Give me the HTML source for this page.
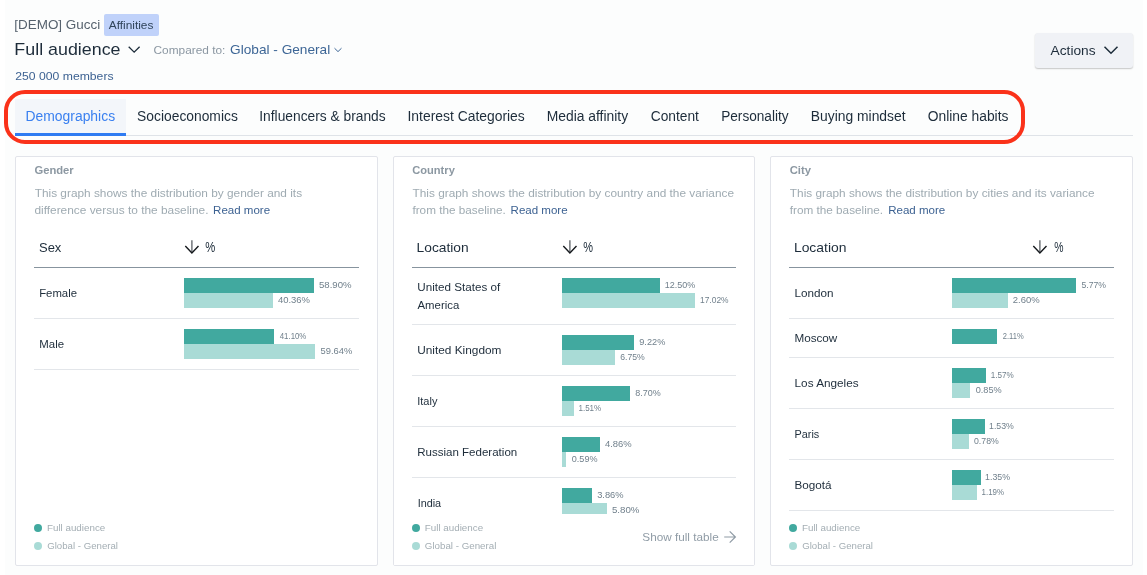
<!DOCTYPE html>
<html><head><meta charset="utf-8"><title>Audience insights</title>
<style>
*{box-sizing:border-box;margin:0;padding:0}
html,body{width:1147px;height:575px;overflow:hidden;background:#fff}
body{position:relative;font-family:"Liberation Sans",sans-serif}
.a{position:absolute}
svg{position:absolute;left:0;top:0}
text{font-family:"Liberation Sans",sans-serif;white-space:pre}
</style></head><body>
<div class="a" style="left:5px;top:0;width:1138px;height:575px;background:#fcfdfd"></div>
<div class="a" style="left:104px;top:14px;width:55px;height:22px;background:#c0d2fa;border-radius:2px"></div>
<div class="a" style="left:1035px;top:33px;width:98px;height:35px;background:#f0f2f6;border-radius:3px;box-shadow:0 1px 1.5px rgba(0,0,0,.22)"></div>
<div class="a" style="left:15px;top:135px;width:1118px;height:1px;background:#dfe3e8"></div>
<div class="a" style="left:15px;top:99px;width:111px;height:37px;background:#f3f6fa;border-bottom:3px solid #2f7bf2"></div>
<div class="a" style="left:4px;top:90px;width:1021px;height:54px;border:4px solid #fa321a;border-radius:21px"></div>
<div class="a" style="left:15px;top:156px;width:363px;height:410px;background:#fff;border:1px solid #e2e4ea;border-radius:2px;"></div>
<div class="a" style="left:34px;top:267px;width:325px;height:1px;background:#87949e;"></div>
<div class="a" style="left:393px;top:156px;width:362px;height:410px;background:#fff;border:1px solid #e2e4ea;border-radius:2px;"></div>
<div class="a" style="left:412px;top:267px;width:324px;height:1px;background:#87949e;"></div>
<div class="a" style="left:770px;top:156px;width:363px;height:410px;background:#fff;border:1px solid #e2e4ea;border-radius:2px;"></div>
<div class="a" style="left:789px;top:267px;width:325px;height:1px;background:#87949e;"></div>
<div class="a" style="left:184px;top:278px;width:130px;height:15px;background:#41a99f;"></div>
<div class="a" style="left:184px;top:293px;width:89px;height:15px;background:#a9dbd6;"></div>
<div class="a" style="left:184px;top:329px;width:90px;height:15px;background:#41a99f;"></div>
<div class="a" style="left:184px;top:344px;width:131px;height:15px;background:#a9dbd6;"></div>
<div class="a" style="left:34px;top:318px;width:325px;height:1px;background:#e3e6ea;"></div>
<div class="a" style="left:34px;top:369px;width:325px;height:1px;background:#e3e6ea;"></div>
<div class="a" style="left:562px;top:278px;width:98px;height:15px;background:#41a99f;"></div>
<div class="a" style="left:562px;top:293px;width:133px;height:15px;background:#a9dbd6;"></div>
<div class="a" style="left:562px;top:335px;width:72px;height:15px;background:#41a99f;"></div>
<div class="a" style="left:562px;top:350px;width:53px;height:15px;background:#a9dbd6;"></div>
<div class="a" style="left:562px;top:386px;width:68px;height:15px;background:#41a99f;"></div>
<div class="a" style="left:562px;top:401px;width:12px;height:15px;background:#a9dbd6;"></div>
<div class="a" style="left:562px;top:437px;width:38px;height:15px;background:#41a99f;"></div>
<div class="a" style="left:562px;top:452px;width:4px;height:15px;background:#a9dbd6;"></div>
<div class="a" style="left:562px;top:488px;width:30px;height:15px;background:#41a99f;"></div>
<div class="a" style="left:562px;top:503px;width:45px;height:15px;background:#a9dbd6;"></div>
<div class="a" style="left:412px;top:324px;width:324px;height:1px;background:#e3e6ea;"></div>
<div class="a" style="left:412px;top:375px;width:324px;height:1px;background:#e3e6ea;"></div>
<div class="a" style="left:412px;top:426px;width:324px;height:1px;background:#e3e6ea;"></div>
<div class="a" style="left:412px;top:477px;width:324px;height:1px;background:#e3e6ea;"></div>
<div class="a" style="left:394px;top:514px;width:360px;height:51px;background:#fff;"></div>
<div class="a" style="left:952px;top:278px;width:124px;height:15px;background:#41a99f;"></div>
<div class="a" style="left:952px;top:293px;width:56px;height:15px;background:#a9dbd6;"></div>
<div class="a" style="left:952px;top:329px;width:45px;height:15px;background:#41a99f;"></div>
<div class="a" style="left:952px;top:368px;width:34px;height:15px;background:#41a99f;"></div>
<div class="a" style="left:952px;top:383px;width:18px;height:15px;background:#a9dbd6;"></div>
<div class="a" style="left:952px;top:419px;width:33px;height:15px;background:#41a99f;"></div>
<div class="a" style="left:952px;top:434px;width:17px;height:15px;background:#a9dbd6;"></div>
<div class="a" style="left:952px;top:470px;width:29px;height:15px;background:#41a99f;"></div>
<div class="a" style="left:952px;top:485px;width:25px;height:15px;background:#a9dbd6;"></div>
<div class="a" style="left:789px;top:318px;width:325px;height:1px;background:#e3e6ea;"></div>
<div class="a" style="left:789px;top:357px;width:325px;height:1px;background:#e3e6ea;"></div>
<div class="a" style="left:789px;top:408px;width:325px;height:1px;background:#e3e6ea;"></div>
<div class="a" style="left:789px;top:459px;width:325px;height:1px;background:#e3e6ea;"></div>
<div class="a" style="left:789px;top:510px;width:325px;height:1px;background:#e3e6ea;"></div>
<div class="a" style="left:34px;top:524px;width:8px;height:8px;background:#41a99f;border-radius:50%;"></div>
<div class="a" style="left:34px;top:542px;width:8px;height:8px;background:#a9dbd6;border-radius:50%;"></div>
<div class="a" style="left:412px;top:524px;width:8px;height:8px;background:#41a99f;border-radius:50%;"></div>
<div class="a" style="left:412px;top:542px;width:8px;height:8px;background:#a9dbd6;border-radius:50%;"></div>
<div class="a" style="left:789px;top:524px;width:8px;height:8px;background:#41a99f;border-radius:50%;"></div>
<div class="a" style="left:789px;top:542px;width:8px;height:8px;background:#a9dbd6;border-radius:50%;"></div>
<svg width="1147" height="575" viewBox="0 0 1147 575">
<path d="M191.9 240.3 V252.6" fill="none" stroke="#1c232a" stroke-opacity=".72" stroke-width="1.3"/><path d="M185.3 246.0 L191.9 252.9 L198.5 246.0" fill="none" stroke="#15191d" stroke-width="1.4"/>
<path d="M569.9 240.3 V252.6" fill="none" stroke="#1c232a" stroke-opacity=".72" stroke-width="1.3"/><path d="M563.3 246.0 L569.9 252.9 L576.5 246.0" fill="none" stroke="#15191d" stroke-width="1.4"/>
<path d="M1039.9 240.3 V252.6" fill="none" stroke="#1c232a" stroke-opacity=".72" stroke-width="1.3"/><path d="M1033.3 246.0 L1039.9 252.9 L1046.5 246.0" fill="none" stroke="#15191d" stroke-width="1.4"/>
<path d="M724.2 537 H735.2 M729.7 531.3 L735.4 537 L729.7 542.7" fill="none" stroke="#8f9ba5" stroke-width="1.2"/>
<path d="M128.7 46.8 L134.15 52.2 L139.6 46.8" fill="none" stroke="#1d2c3a" stroke-width="1.3"/>
<path d="M334.5 48.2 L338 51.6 L341.5 48.2" fill="none" stroke="#3d6696" stroke-width="1"/>
<path d="M1104.5 46.7 L1111 53.2 L1117.5 46.7" fill="none" stroke="#1d2c3a" stroke-width="1.5"/>
<text id="t0" x="14.28" y="28.9" font-size="13.5" fill="#56626e" textLength="85.93" lengthAdjust="spacingAndGlyphs">[DEMO] Gucci</text>
<text id="t1" x="108.77" y="28.9" font-size="11.5" fill="#30445a" textLength="44.64" lengthAdjust="spacingAndGlyphs">Affinities</text>
<text id="t2" x="14.36" y="54.9" font-size="17" fill="#1d2c3a" textLength="106.17" lengthAdjust="spacingAndGlyphs">Full audience</text>
<text id="t3" x="153.55" y="54.0" font-size="11.5" fill="#8b97a2" textLength="71.83" lengthAdjust="spacingAndGlyphs">Compared to:</text>
<text id="t4" x="230.08" y="54.0" font-size="13.5" fill="#3d6696" textLength="100.12" lengthAdjust="spacingAndGlyphs">Global - General</text>
<text id="t5" x="15.32" y="80.0" font-size="11.5" fill="#3d6292" textLength="98.25" lengthAdjust="spacingAndGlyphs">250 000 members</text>
<text id="t6" x="1050.55" y="54.7" font-size="13.5" fill="#1d2c3a" textLength="45.04" lengthAdjust="spacingAndGlyphs">Actions</text>
<text id="t7" x="25.53" y="120.8" font-size="13.8" fill="#3a80f0" textLength="89.56" lengthAdjust="spacingAndGlyphs">Demographics</text>
<text id="t8" x="137.10" y="120.8" font-size="13.8" fill="#1d2c3a" textLength="100.71" lengthAdjust="spacingAndGlyphs">Socioeconomics</text>
<text id="t9" x="259.31" y="120.8" font-size="13.8" fill="#1d2c3a" textLength="126.29" lengthAdjust="spacingAndGlyphs">Influencers &amp; brands</text>
<text id="t10" x="407.48" y="120.8" font-size="13.8" fill="#1d2c3a" textLength="117.32" lengthAdjust="spacingAndGlyphs">Interest Categories</text>
<text id="t11" x="546.67" y="120.8" font-size="13.8" fill="#1d2c3a" textLength="81.47" lengthAdjust="spacingAndGlyphs">Media affinity</text>
<text id="t12" x="650.70" y="120.8" font-size="13.8" fill="#1d2c3a" textLength="48.21" lengthAdjust="spacingAndGlyphs">Content</text>
<text id="t13" x="721.20" y="120.8" font-size="13.8" fill="#1d2c3a" textLength="67.44" lengthAdjust="spacingAndGlyphs">Personality</text>
<text id="t14" x="810.77" y="120.8" font-size="13.8" fill="#1d2c3a" textLength="94.77" lengthAdjust="spacingAndGlyphs">Buying mindset</text>
<text id="t15" x="927.76" y="120.8" font-size="13.8" fill="#1d2c3a" textLength="80.70" lengthAdjust="spacingAndGlyphs">Online habits</text>
<text id="t16" x="34.45" y="173.7" font-size="11.5" fill="#8c98a2" font-weight="bold" textLength="39.27" lengthAdjust="spacingAndGlyphs">Gender</text>
<text id="t17" x="34.68" y="197.3" font-size="11.5" fill="#9fabb2" textLength="267.39" lengthAdjust="spacingAndGlyphs">This graph shows the distribution by gender and its</text>
<text id="t18" x="34.45" y="214.2" font-size="11.5" fill="#9fabb2" textLength="174.03" lengthAdjust="spacingAndGlyphs">difference versus to the baseline.</text>
<text id="t19" x="213.14" y="214.2" font-size="11.5" fill="#3d6292" textLength="56.99" lengthAdjust="spacingAndGlyphs">Read more</text>
<text id="t20" x="38.98" y="252.0" font-size="13.5" fill="#1d2c3a" textLength="22.41" lengthAdjust="spacingAndGlyphs">Sex</text>
<text id="t21" x="205.19" y="252.2" font-size="14.5" fill="#1d2c3a" textLength="10.03" lengthAdjust="spacingAndGlyphs">%</text>
<text id="t22" x="412.26" y="173.7" font-size="11.5" fill="#8c98a2" font-weight="bold" textLength="42.58" lengthAdjust="spacingAndGlyphs">Country</text>
<text id="t23" x="412.50" y="197.3" font-size="11.5" fill="#9fabb2" textLength="321.53" lengthAdjust="spacingAndGlyphs">This graph shows the distribution by country and the variance</text>
<text id="t24" x="412.46" y="214.2" font-size="11.5" fill="#9fabb2" textLength="93.25" lengthAdjust="spacingAndGlyphs">from the baseline.</text>
<text id="t25" x="510.55" y="214.2" font-size="11.5" fill="#3d6292" textLength="57.05" lengthAdjust="spacingAndGlyphs">Read more</text>
<text id="t26" x="416.55" y="252.0" font-size="13.5" fill="#1d2c3a" textLength="52.12" lengthAdjust="spacingAndGlyphs">Location</text>
<text id="t27" x="583.14" y="252.2" font-size="14.5" fill="#1d2c3a" textLength="9.77" lengthAdjust="spacingAndGlyphs">%</text>
<text id="t28" x="789.65" y="173.7" font-size="11.5" fill="#8c98a2" font-weight="bold" textLength="21.31" lengthAdjust="spacingAndGlyphs">City</text>
<text id="t29" x="789.87" y="197.3" font-size="11.5" fill="#9fabb2" textLength="304.73" lengthAdjust="spacingAndGlyphs">This graph shows the distribution by cities and its variance</text>
<text id="t30" x="789.71" y="214.2" font-size="11.5" fill="#9fabb2" textLength="93.42" lengthAdjust="spacingAndGlyphs">from the baseline.</text>
<text id="t31" x="888.13" y="214.2" font-size="11.5" fill="#3d6292" textLength="57.11" lengthAdjust="spacingAndGlyphs">Read more</text>
<text id="t32" x="793.90" y="252.0" font-size="13.5" fill="#1d2c3a" textLength="52.61" lengthAdjust="spacingAndGlyphs">Location</text>
<text id="t33" x="1054.20" y="252.2" font-size="14.5" fill="#1d2c3a" textLength="9.24" lengthAdjust="spacingAndGlyphs">%</text>
<text id="t34" x="39.14" y="297.0" font-size="11.7" fill="#1d2c3a" textLength="37.89" lengthAdjust="spacingAndGlyphs">Female</text>
<text id="t35" x="39.35" y="348.0" font-size="11.7" fill="#1d2c3a" textLength="24.74" lengthAdjust="spacingAndGlyphs">Male</text>
<text id="t36" x="417.28" y="291.0" font-size="11.7" fill="#1d2c3a" textLength="82.93" lengthAdjust="spacingAndGlyphs">United States of</text>
<text id="t37" x="417.52" y="309.0" font-size="11.7" fill="#1d2c3a" textLength="41.71" lengthAdjust="spacingAndGlyphs">America</text>
<text id="t38" x="417.24" y="354.0" font-size="11.7" fill="#1d2c3a" textLength="84.21" lengthAdjust="spacingAndGlyphs">United Kingdom</text>
<text id="t39" x="417.22" y="405.0" font-size="11.7" fill="#1d2c3a" textLength="20.18" lengthAdjust="spacingAndGlyphs">Italy</text>
<text id="t40" x="417.13" y="456.0" font-size="11.7" fill="#1d2c3a" textLength="100.12" lengthAdjust="spacingAndGlyphs">Russian Federation</text>
<text id="t41" x="417.64" y="507.0" font-size="11.7" fill="#1d2c3a" textLength="23.50" lengthAdjust="spacingAndGlyphs">India</text>
<text id="t42" x="794.60" y="297.0" font-size="11.7" fill="#1d2c3a" textLength="39.01" lengthAdjust="spacingAndGlyphs">London</text>
<text id="t43" x="794.42" y="342.0" font-size="11.7" fill="#1d2c3a" textLength="42.92" lengthAdjust="spacingAndGlyphs">Moscow</text>
<text id="t44" x="794.59" y="387.0" font-size="11.7" fill="#1d2c3a" textLength="64.01" lengthAdjust="spacingAndGlyphs">Los Angeles</text>
<text id="t45" x="794.56" y="438.0" font-size="11.7" fill="#1d2c3a" textLength="24.76" lengthAdjust="spacingAndGlyphs">Paris</text>
<text id="t46" x="794.47" y="489.0" font-size="11.7" fill="#1d2c3a" textLength="37.08" lengthAdjust="spacingAndGlyphs">Bogotá</text>
<text id="t47" x="319.01" y="288.2" font-size="9.8" fill="#71808c" textLength="32.58" lengthAdjust="spacingAndGlyphs">58.90%</text>
<text id="t48" x="277.89" y="303.2" font-size="9.8" fill="#71808c" textLength="32.10" lengthAdjust="spacingAndGlyphs">40.36%</text>
<text id="t49" x="279.78" y="339.2" font-size="9.8" fill="#71808c" textLength="26.54" lengthAdjust="spacingAndGlyphs">41.10%</text>
<text id="t50" x="320.62" y="354.2" font-size="9.8" fill="#71808c" textLength="31.71" lengthAdjust="spacingAndGlyphs">59.64%</text>
<text id="t51" x="664.85" y="288.2" font-size="9.8" fill="#71808c" textLength="30.52" lengthAdjust="spacingAndGlyphs">12.50%</text>
<text id="t52" x="700.01" y="303.2" font-size="9.8" fill="#71808c" textLength="28.55" lengthAdjust="spacingAndGlyphs">17.02%</text>
<text id="t53" x="639.27" y="345.2" font-size="9.8" fill="#71808c" textLength="26.04" lengthAdjust="spacingAndGlyphs">9.22%</text>
<text id="t54" x="620.19" y="360.2" font-size="9.8" fill="#71808c" textLength="24.58" lengthAdjust="spacingAndGlyphs">6.75%</text>
<text id="t55" x="635.37" y="396.2" font-size="9.8" fill="#71808c" textLength="25.39" lengthAdjust="spacingAndGlyphs">8.70%</text>
<text id="t56" x="578.43" y="411.2" font-size="9.8" fill="#71808c" textLength="22.82" lengthAdjust="spacingAndGlyphs">1.51%</text>
<text id="t57" x="604.91" y="447.2" font-size="9.8" fill="#71808c" textLength="26.75" lengthAdjust="spacingAndGlyphs">4.86%</text>
<text id="t58" x="571.78" y="462.2" font-size="9.8" fill="#71808c" textLength="25.74" lengthAdjust="spacingAndGlyphs">0.59%</text>
<text id="t59" x="597.14" y="498.2" font-size="9.8" fill="#71808c" textLength="26.43" lengthAdjust="spacingAndGlyphs">3.86%</text>
<text id="t60" x="611.88" y="513.2" font-size="9.8" fill="#71808c" textLength="27.57" lengthAdjust="spacingAndGlyphs">5.80%</text>
<text id="t61" x="1081.46" y="288.2" font-size="9.8" fill="#71808c" textLength="24.54" lengthAdjust="spacingAndGlyphs">5.77%</text>
<text id="t62" x="1012.84" y="303.2" font-size="9.8" fill="#71808c" textLength="26.94" lengthAdjust="spacingAndGlyphs">2.60%</text>
<text id="t63" x="1002.75" y="339.2" font-size="9.8" fill="#71808c" textLength="20.88" lengthAdjust="spacingAndGlyphs">2.11%</text>
<text id="t64" x="990.68" y="378.2" font-size="9.8" fill="#71808c" textLength="23.04" lengthAdjust="spacingAndGlyphs">1.57%</text>
<text id="t65" x="975.66" y="393.2" font-size="9.8" fill="#71808c" textLength="25.98" lengthAdjust="spacingAndGlyphs">0.85%</text>
<text id="t66" x="989.03" y="429.2" font-size="9.8" fill="#71808c" textLength="24.78" lengthAdjust="spacingAndGlyphs">1.53%</text>
<text id="t67" x="974.01" y="444.2" font-size="9.8" fill="#71808c" textLength="24.74" lengthAdjust="spacingAndGlyphs">0.78%</text>
<text id="t68" x="985.05" y="480.2" font-size="9.8" fill="#71808c" textLength="24.95" lengthAdjust="spacingAndGlyphs">1.35%</text>
<text id="t69" x="981.61" y="495.2" font-size="9.8" fill="#71808c" textLength="22.45" lengthAdjust="spacingAndGlyphs">1.19%</text>
<text id="t70" x="46.99" y="531.0" font-size="9.5" fill="#a4aeb4" textLength="58.24" lengthAdjust="spacingAndGlyphs">Full audience</text>
<text id="t71" x="47.23" y="549.2" font-size="9.5" fill="#a4aeb4" textLength="70.74" lengthAdjust="spacingAndGlyphs">Global - General</text>
<text id="t72" x="424.78" y="531.0" font-size="9.5" fill="#a4aeb4" textLength="58.35" lengthAdjust="spacingAndGlyphs">Full audience</text>
<text id="t73" x="424.89" y="549.2" font-size="9.5" fill="#a4aeb4" textLength="71.48" lengthAdjust="spacingAndGlyphs">Global - General</text>
<text id="t74" x="801.99" y="531.0" font-size="9.5" fill="#a4aeb4" textLength="58.24" lengthAdjust="spacingAndGlyphs">Full audience</text>
<text id="t75" x="802.23" y="549.2" font-size="9.5" fill="#a4aeb4" textLength="70.74" lengthAdjust="spacingAndGlyphs">Global - General</text>
<text id="t76" x="642.30" y="540.8" font-size="11.5" fill="#909ca6" textLength="76.37" lengthAdjust="spacingAndGlyphs">Show full table</text>
</svg>
</body></html>
